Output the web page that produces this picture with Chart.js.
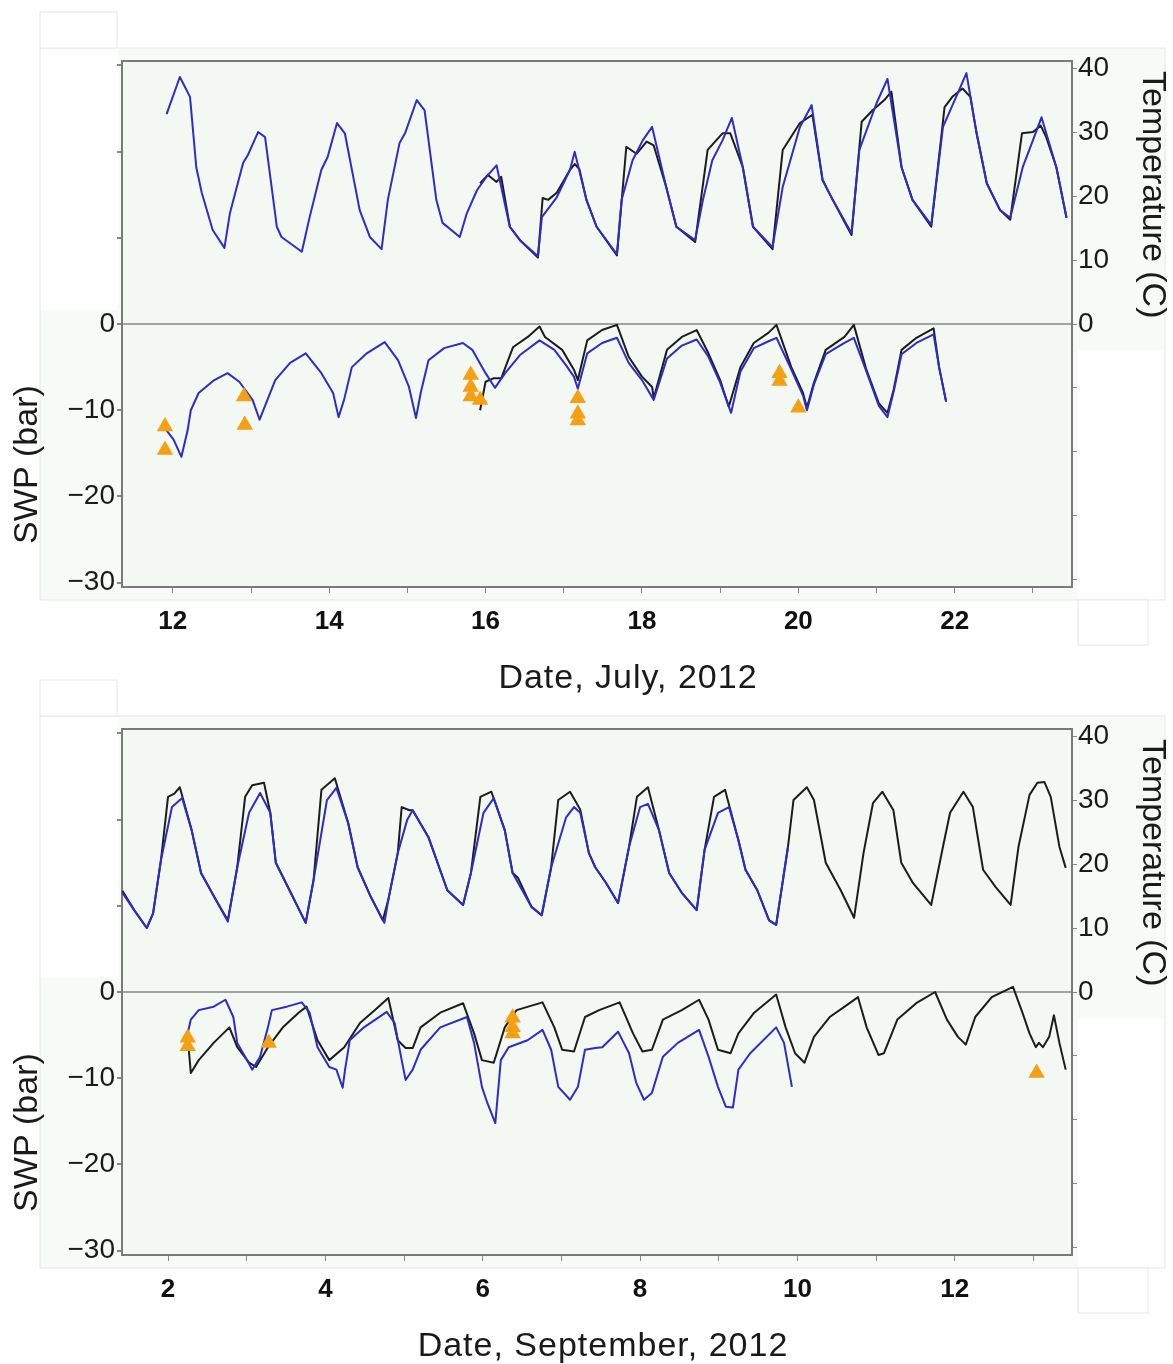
<!DOCTYPE html>
<html>
<head>
<meta charset="utf-8">
<script src="https://cdn.jsdelivr.net/npm/chart.js@4.4.1/dist/chart.umd.min.js"></script>
<style>
body { margin: 0; background: #fff; }
canvas { position: absolute; left: 0; }
#july { top: 0; }
#sept { top: 668px; }
</style>
</head>
<body>
<canvas id="july" width="1173" height="696"></canvas>
<canvas id="sept" width="1173" height="696"></canvas>
<script>
// [day, value] pairs
var julTempBlue = [[11.92,32.8],[12.09,38.6],[12.22,35.5],[12.3,24.5],[12.37,20.5],[12.51,14.7],[12.66,11.9],[12.73,17.3],[12.9,25.2],[12.96,26.4],[13.09,30],[13.18,29.2],[13.33,15.2],[13.39,13.6],[13.65,11.3],[13.75,16.7],[13.9,24.1],[13.98,26.1],[14.1,31.4],[14.2,29.8],[14.39,17.8],[14.52,13.6],[14.67,11.7],[14.75,19.4],[14.9,28.3],[14.97,29.8],[15.12,35],[15.22,33.4],[15.37,19.4],[15.45,15.8],[15.67,13.6],[15.76,17.3],[15.89,20.9],[16.01,23],[16.14,24.8],[16.31,15.2],[16.44,13.1],[16.67,10.6],[16.72,16.7],[16.91,19.8],[17.08,24.1],[17.14,26.9],[17.29,19.4],[17.42,15.2],[17.68,10.9],[17.74,19.4],[17.88,25.6],[18.01,28.7],[18.13,30.8],[18.31,21.4],[18.44,15.2],[18.68,13.1],[18.78,19.4],[18.9,25.6],[19.03,28.7],[19.15,32.2],[19.29,24.5],[19.42,15.2],[19.67,12],[19.8,21.4],[20.02,30.8],[20.17,34.2],[20.31,22.5],[20.44,19.4],[20.68,14.2],[20.78,27.2],[21,34.5],[21.14,38.3],[21.32,24.5],[21.46,19.4],[21.7,15.5],[21.85,30.8],[22,35],[22.15,39.2],[22.28,29.8],[22.41,22],[22.58,17.8],[22.71,16.6],[22.87,24.5],[23,28.7],[23.11,32.3],[23.3,24.5],[23.43,16.6]];
var julTempBlack = [[15.93,22],[16.03,23.3],[16.14,22.2],[16.2,23],[16.31,15.2],[16.44,13.1],[16.67,10.4],[16.73,19.7],[16.8,19.4],[16.91,20.5],[17.08,24.1],[17.14,25],[17.2,24.2],[17.29,19.4],[17.42,15.2],[17.68,10.7],[17.8,27.7],[17.93,26.6],[18.06,28.5],[18.15,27.9],[18.31,21.4],[18.44,15.2],[18.68,12.8],[18.84,27.2],[19.03,29.8],[19.13,29.8],[19.29,24.5],[19.42,15.2],[19.67,11.7],[19.8,27.2],[20.02,31.4],[20.18,32.7],[20.31,22.5],[20.44,19.4],[20.68,13.9],[20.81,31.6],[20.95,33.4],[21.1,35],[21.19,36.3],[21.32,24.5],[21.46,19.4],[21.7,15.2],[21.87,33.9],[21.97,35.5],[22.1,36.8],[22.2,35.5],[22.28,29.8],[22.41,22],[22.58,17.8],[22.71,16.3],[22.86,29.8],[23,30],[23.1,31],[23.17,29.2],[23.3,24.5],[23.43,16.6]];
var julSwpBlue = [[11.9,-12.1],[12.01,-13.4],[12.11,-15.4],[12.19,-12.3],[12.23,-10],[12.33,-8],[12.53,-6.5],[12.7,-5.7],[12.85,-6.7],[13.02,-8.8],[13.11,-11.1],[13.21,-8.8],[13.31,-6.5],[13.5,-4.5],[13.7,-3.4],[13.9,-5.7],[14.05,-8],[14.12,-10.8],[14.19,-8.8],[14.29,-5],[14.48,-3.4],[14.71,-2.1],[14.88,-4.2],[15.02,-7.3],[15.11,-10.9],[15.17,-8],[15.27,-4.2],[15.47,-2.8],[15.71,-2.2],[15.83,-3],[16,-5.7],[16.12,-7.4],[16.25,-5.7],[16.44,-3.6],[16.69,-1.9],[16.88,-3],[17.03,-4.8],[17.13,-6.1],[17.18,-7.5],[17.3,-3.4],[17.49,-2.2],[17.68,-1.6],[17.83,-4.5],[18,-6.5],[18.15,-8.8],[18.32,-4],[18.51,-2.5],[18.7,-1.8],[18.85,-3.8],[19,-6.8],[19.14,-10.3],[19.26,-5.5],[19.43,-2.8],[19.62,-2],[19.72,-1.6],[19.91,-5.3],[20.06,-8.3],[20.11,-10],[20.2,-7],[20.35,-3.5],[20.59,-2.2],[20.71,-1.6],[20.87,-5.5],[21.03,-9.5],[21.14,-10.8],[21.22,-7.8],[21.32,-3.5],[21.51,-2.2],[21.73,-1.2],[21.8,-5],[21.89,-9]];
var julSwpBlack = [[15.93,-10],[16,-6.7],[16.1,-6.3],[16.2,-6.3],[16.35,-2.7],[16.54,-1.5],[16.69,-0.3],[16.76,-1.5],[16.98,-3],[17.13,-5.3],[17.18,-6.5],[17.3,-1.9],[17.49,-0.7],[17.68,-0.1],[17.83,-3.8],[18,-6.1],[18.13,-7.3],[18.15,-8.6],[18.32,-3],[18.51,-1.5],[18.7,-0.7],[18.85,-3.4],[19,-6.5],[19.11,-9.6],[19.26,-5],[19.43,-2.2],[19.62,-1],[19.72,-0.1],[19.91,-5],[20.06,-8],[20.11,-9.7],[20.2,-6.8],[20.35,-3],[20.59,-1.5],[20.71,-0.1],[20.87,-5.3],[21.03,-9.2],[21.14,-10.3],[21.22,-7.6],[21.32,-3],[21.51,-1.6],[21.73,-0.5],[21.8,-5],[21.89,-9]];
var julMeasured = [[11.9,-11.9],[11.9,-14.6],[12.91,-8.4],[12.92,-11.7],[15.81,-5.9],[15.81,-7.3],[15.81,-8.4],[15.93,-8.8],[17.18,-8.6],[17.18,-10.4],[17.18,-11.2],[19.76,-5.7],[19.76,-6.6],[20,-9.7]];

var sepTempBlack = [[1.42,15.8],[1.57,12.8],[1.73,10],[1.81,12.3],[1.91,20.6],[2,30.5],[2.08,31],[2.15,32],[2.3,25.3],[2.42,18.6],[2.59,14.8],[2.76,11.2],[2.88,19.5],[2.98,30.5],[3.07,32.3],[3.22,32.7],[3.3,28],[3.37,20.2],[3.56,15.5],[3.75,10.8],[3.85,17.5],[3.95,31.6],[4.12,33.4],[4.29,26.4],[4.41,19.5],[4.58,14.8],[4.73,11.2],[4.8,14.4],[4.92,21.7],[4.97,28.9],[5.07,28.4],[5.11,28.4],[5.31,24.2],[5.55,15.9],[5.75,13.6],[5.85,18.6],[5.97,30.5],[6.11,31.3],[6.28,25.3],[6.38,18.6],[6.45,17.8],[6.62,13.3],[6.75,12],[6.87,19.5],[6.96,30],[7.11,31.3],[7.24,28.5],[7.35,21.7],[7.43,19.5],[7.57,17],[7.72,13.9],[7.86,22.7],[7.96,30.5],[8.1,32],[8.24,25.3],[8.37,18.6],[8.53,15.5],[8.72,12.8],[8.82,22.2],[8.94,30.5],[9.08,31.6],[9.25,23.7],[9.34,19.1],[9.49,15.9],[9.64,11.2],[9.73,10.5],[9.88,22.7],[9.95,30],[10.12,32],[10.21,30],[10.36,20.2],[10.55,15.9],[10.72,11.6],[10.84,21.7],[10.96,29.5],[11.08,31.3],[11.22,28.4],[11.32,20.2],[11.47,17],[11.7,13.6],[11.85,22.7],[11.94,28],[12.11,31.3],[12.23,28.9],[12.36,19.1],[12.52,16.4],[12.71,13.6],[12.81,22.7],[12.95,30.8],[13.05,32.7],[13.14,32.8],[13.22,30.5],[13.33,22.7],[13.41,19.4]];
var sepTempBlue = [[1.42,15.5],[1.57,12.8],[1.73,10],[1.81,12.3],[1.91,20.6],[2.05,28.9],[2.18,30.3],[2.3,25.3],[2.42,18.6],[2.59,14.8],[2.76,11],[2.88,19.5],[3.03,28],[3.17,31.1],[3.3,28],[3.37,20.2],[3.56,15.5],[3.75,10.8],[3.85,17.5],[4.02,30],[4.14,31.9],[4.29,26.4],[4.41,19.5],[4.58,14.8],[4.75,10.8],[4.8,14.4],[4.92,21.7],[5.04,26.9],[5.11,28.4],[5.31,24.2],[5.55,15.9],[5.75,13.6],[5.85,18.6],[6.01,28],[6.14,30.3],[6.28,25.3],[6.38,18.6],[6.62,13.3],[6.75,12],[6.87,19.5],[7.06,27.3],[7.16,28.9],[7.24,28],[7.35,21.7],[7.43,19.5],[7.57,17],[7.72,13.9],[7.86,22.7],[8,28.9],[8.1,29.4],[8.24,25.3],[8.37,18.6],[8.53,15.5],[8.72,12.8],[8.82,22.2],[8.99,28],[9.13,28.9],[9.25,23.7],[9.34,19.1],[9.49,15.9],[9.64,11.2],[9.73,10.5],[9.88,22.7]];
var sepSwpBlack = [[2.25,-5.2],[2.29,-9.4],[2.39,-7.9],[2.58,-5.9],[2.78,-4.1],[2.88,-6.4],[3.03,-8.2],[3.12,-8.7],[3.27,-6.4],[3.46,-4.1],[3.66,-2.4],[3.76,-1.7],[3.9,-5.6],[4.05,-7.9],[4.24,-6.4],[4.44,-3.6],[4.63,-2.1],[4.8,-0.7],[4.92,-5.6],[5.02,-6.5],[5.11,-6.5],[5.21,-4.1],[5.46,-2.4],[5.75,-1.3],[5.89,-4.8],[5.99,-7.9],[6.14,-8.2],[6.28,-4.1],[6.43,-2.1],[6.76,-1.2],[6.91,-4.1],[7.01,-6.7],[7.16,-6.9],[7.3,-2.9],[7.48,-2.1],[7.74,-1.2],[7.91,-4.8],[8.03,-6.9],[8.15,-6.7],[8.29,-3.2],[8.53,-2.1],[8.75,-0.9],[8.87,-3.2],[8.99,-6.7],[9.15,-7.1],[9.25,-4.8],[9.45,-2.4],[9.73,-0.3],[9.85,-4.1],[9.97,-7.1],[10.09,-8.2],[10.21,-5.2],[10.41,-2.9],[10.6,-1.7],[10.77,-0.6],[10.88,-4.1],[11.03,-7.3],[11.1,-7.1],[11.27,-3.2],[11.51,-1.3],[11.75,0],[11.9,-3.2],[12.04,-5.2],[12.14,-6.1],[12.26,-2.9],[12.47,-0.6],[12.74,0.6],[12.86,-2.4],[12.95,-4.8],[13.03,-6.4],[13.07,-5.9],[13.12,-6.4],[13.2,-5.2],[13.26,-2.7],[13.33,-5.9],[13.41,-9]];
var sepSwpBlue = [[2.25,-4.8],[2.29,-3.2],[2.39,-2.1],[2.58,-1.7],[2.73,-0.9],[2.83,-2.9],[2.88,-5.9],[2.98,-7.5],[3.07,-9],[3.17,-7.5],[3.27,-4.1],[3.32,-2.1],[3.51,-1.7],[3.7,-1.2],[3.8,-2.4],[3.9,-6.4],[4.05,-8.7],[4.14,-9],[4.22,-11.1],[4.25,-9],[4.31,-5.6],[4.49,-4.1],[4.78,-2.3],[4.88,-3.6],[4.97,-7.9],[5.02,-10.2],[5.11,-9],[5.21,-6.7],[5.46,-4.1],[5.8,-2.9],[5.89,-5.9],[5.99,-11],[6.06,-12.9],[6.16,-15.2],[6.23,-7.9],[6.33,-6.4],[6.57,-5.6],[6.76,-4.4],[6.87,-6.7],[6.96,-11],[7.11,-12.5],[7.21,-11],[7.3,-6.7],[7.43,-6.5],[7.52,-6.4],[7.72,-4.6],[7.86,-7.1],[7.95,-10.5],[8.05,-12.5],[8.15,-11.7],[8.29,-7.5],[8.48,-5.9],[8.75,-4.4],[8.87,-7.5],[8.99,-11],[9.09,-13.3],[9.18,-13.4],[9.25,-9],[9.4,-7.1],[9.73,-4.1],[9.83,-5.9],[9.93,-11]];
var sepMeasured = [[2.25,-5.3],[2.25,-6.3],[3.28,-5.9],[6.38,-3],[6.38,-4.1],[6.38,-4.8],[13.04,-9.4]];

var julRange = [11.35, 23.5];
var sepRange = [1.415, 13.49];
var swpRange = [-30.5, 30.5];
var tempRange = [-41.1, 41.1];

var FONT = '"Liberation Sans", Arial, sans-serif';
var BLUE = '#2d2dc4';
var BLACK = '#1c1c1c';
var ORANGE = '#f5a012';

function pts(arr) {
  return arr.map(function (p) { return {x: p[0], y: p[1]}; });
}

function minus(v) {
  return String(v).replace('-', '\u2212');
}

var panelPlugin = {
  id: 'panel',
  beforeDraw: function (chart) {
    var ctx = chart.ctx, a = chart.chartArea;
    var zero = chart.scales.swp.getPixelForValue(0);
    ctx.save();
    ctx.fillStyle = '#f7faf7';
    ctx.fillRect(a.left - 82, a.top - 13, a.right - a.left + 175, a.bottom - a.top + 26);
    ctx.fillStyle = '#fdfefd';
    ctx.fillRect(a.left - 82, a.top - 13, 78, zero - a.top - 1);
    ctx.fillRect(a.right + 6, zero + 26, 87, a.bottom - zero - 13);
    ctx.strokeStyle = '#e4e8e4';
    ctx.lineWidth = 1;
    ctx.strokeRect(a.left - 82, a.top - 13, a.right - a.left + 175, a.bottom - a.top + 26);
    ctx.fillStyle = '#ffffff';
    ctx.fillRect(a.left - 82, a.top - 49, 77, 36);
    ctx.strokeRect(a.left - 82, a.top - 49, 77, 36);
    ctx.fillRect(a.right + 6, a.bottom + 13, 70, 45);
    ctx.strokeRect(a.right + 6, a.bottom + 13, 70, 45);
    ctx.fillStyle = '#f3f8f3';
    ctx.fillRect(a.left, a.top, a.right - a.left, a.bottom - a.top);
    ctx.restore();
  },
  afterDraw: function (chart, args, opts) {
    var ctx = chart.ctx, a = chart.chartArea;
    ctx.save();
    ctx.strokeStyle = '#7a7a7a';
    ctx.lineWidth = 2;
    ctx.beginPath();
    ctx.moveTo(a.left, a.top);
    ctx.lineTo(a.right, a.top);
    ctx.stroke();

    ctx.fillStyle = '#1a1a1a';
    ctx.font = '34px ' + FONT;
    ctx.textAlign = 'center';
    ctx.textBaseline = 'middle';
    ctx.save();
    ctx.translate(28, chart.scales.swp.getPixelForValue(-16.3));
    ctx.rotate(-Math.PI / 2);
    ctx.fillText('SWP (bar)', 0, 0);
    ctx.restore();
    ctx.save();
    ctx.translate(a.right + 80, chart.scales.temp.getPixelForValue(20.2));
    ctx.rotate(Math.PI / 2);
    ctx.fillText('Temperature (C)', 0, 0);
    ctx.restore();
    ctx.letterSpacing = '1px';
    ctx.fillText(opts.xTitle, opts.xTitleX, a.bottom + 92);
    ctx.restore();
  }
};

function makeChart(id, range, lines, measured, xTitle, xTitleX) {
  var datasets = [
    {data: pts(lines.tempBlack), yAxisID: 'temp', borderColor: BLACK, order: 3},
    {data: pts(lines.swpBlack), yAxisID: 'swp', borderColor: BLACK, order: 3},
    {data: pts(lines.tempBlue), yAxisID: 'temp', borderColor: BLUE, order: 2},
    {data: pts(lines.swpBlue), yAxisID: 'swp', borderColor: BLUE, order: 2},
    {data: pts(measured), yAxisID: 'swp', showLine: false, pointStyle: 'triangle',
     pointRadius: 9.5, pointBackgroundColor: ORANGE, pointBorderWidth: 0, order: 1}
  ];
  datasets.forEach(function (d) {
    if (d.showLine !== false) {
      d.borderWidth = 2;
      d.pointRadius = 0;
      d.tension = 0;
      d.borderJoinStyle = 'round';
      d.fill = false;
    }
  });

  return new Chart(document.getElementById(id), {
    type: 'line',
    data: {datasets: datasets},
    options: {
      responsive: false,
      animation: false,
      devicePixelRatio: 1,
      layout: {padding: {top: 61, left: 0, right: 0, bottom: 0}},
      plugins: {
        legend: {display: false},
        tooltip: {enabled: false},
        panel: {xTitle: xTitle, xTitleX: xTitleX}
      },
      scales: {
        x: {
          type: 'linear',
          min: range[0],
          max: range[1],
          afterFit: function (s) { s.height = 109; },
          border: {color: '#7a7a7a', width: 2},
          grid: {drawOnChartArea: false, tickLength: 6, tickColor: '#888'},
          ticks: {
            stepSize: 1,
            includeBounds: false,
            padding: 13,
            color: '#111',
            font: {family: FONT, size: 26, weight: 'bold'},
            maxRotation: 0,
            autoSkip: false,
            callback: function (v) { return v % 2 === 0 ? String(v) : ''; }
          }
        },
        swp: {
          type: 'linear',
          position: 'left',
          min: swpRange[0],
          max: swpRange[1],
          afterFit: function (s) { s.width = 122; },
          border: {color: '#7a7a7a', width: 2},
          grid: {
            drawOnChartArea: true,
            tickLength: 5,
            tickColor: '#888',
            lineWidth: 2,
            color: function (c) { return c.tick && c.tick.value === 0 ? '#a0a4a0' : 'rgba(0,0,0,0)'; }
          },
          ticks: {
            stepSize: 10,
            includeBounds: false,
            padding: 2,
            color: '#1a1a1a',
            font: {family: FONT, size: 28},
            callback: function (v) { return v <= 0 ? minus(v) : ''; }
          }
        },
        temp: {
          type: 'linear',
          position: 'right',
          min: tempRange[0],
          max: tempRange[1],
          afterFit: function (s) { s.width = 101; },
          border: {color: '#7a7a7a', width: 2},
          grid: {drawOnChartArea: false, tickLength: 5, tickColor: '#888'},
          ticks: {
            stepSize: 10,
            includeBounds: false,
            padding: 1,
            color: '#1a1a1a',
            font: {family: FONT, size: 28},
            callback: function (v) { return v >= 0 ? String(v) : ''; }
          }
        }
      }
    },
    plugins: [panelPlugin]
  });
}

makeChart('july', julRange,
  {tempBlue: julTempBlue, tempBlack: julTempBlack, swpBlue: julSwpBlue, swpBlack: julSwpBlack},
  julMeasured, 'Date, July, 2012', 628);

makeChart('sept', sepRange,
  {tempBlue: sepTempBlue, tempBlack: sepTempBlack, swpBlue: sepSwpBlue, swpBlack: sepSwpBlack},
  sepMeasured, 'Date, September, 2012', 603);
</script>
</body>
</html>
